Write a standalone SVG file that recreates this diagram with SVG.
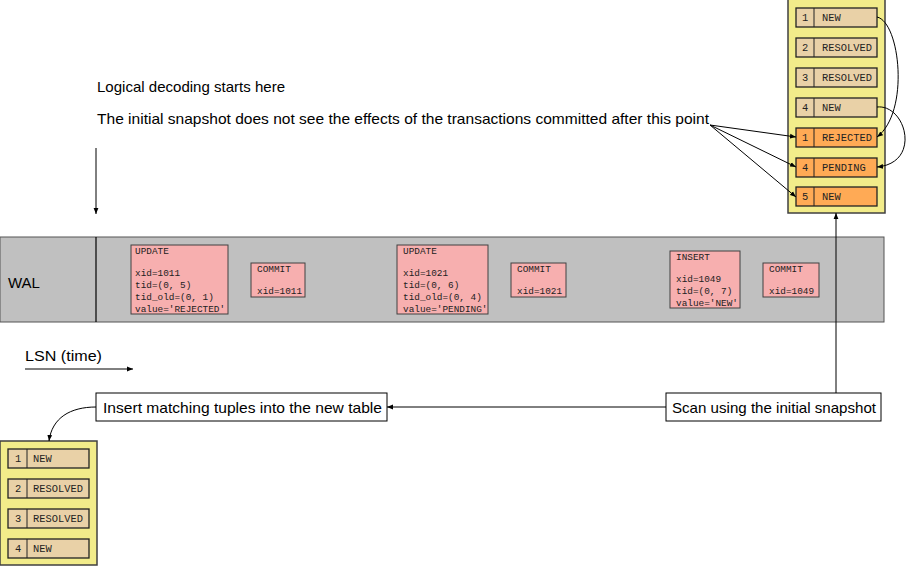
<svg xmlns="http://www.w3.org/2000/svg" width="907" height="567" viewBox="0 0 907 567">
<defs>
<marker id="ah" viewBox="0 0 10 10" refX="10" refY="5" markerWidth="6" markerHeight="6" orient="auto" markerUnits="userSpaceOnUse">
<path d="M0,1 L10,5 L0,9 z" fill="#000"/>
</marker>
</defs>
<style>
.t{font-family:"Liberation Sans","DejaVu Sans",sans-serif;font-size:15px;fill:#000}
.m{font-family:"Liberation Mono","DejaVu Sans Mono",monospace;font-size:9.4px;fill:#222}
.r{font-family:"Liberation Mono","DejaVu Sans Mono",monospace;font-size:10.4px;fill:#222}
.rec{fill:#F7AFAF;stroke:#404040;stroke-width:1}
.tbl{fill:#F2EC8A;stroke:#404040;stroke-width:1.5}
.tan{fill:#E9D1A7;stroke:#222;stroke-width:1.3}
.org{fill:#FFAA55;stroke:#222;stroke-width:1.3}
.box{fill:#fff;stroke:#000;stroke-width:1}
.c{fill:none;stroke:#000;stroke-width:1;marker-end:url(#ah)}
</style>
<rect width="907" height="567" fill="#fff"/>

<g id="wal">
<rect x="0" y="237" width="884" height="85" fill="#C0C0C0" stroke="#555" stroke-width="1"/>
<line x1="96" y1="237" x2="96" y2="322" stroke="#000" stroke-width="1.2"/>
<text class="t" x="8" y="288" font-size="17">WAL</text>
</g>

<g id="rec-update1">
<rect class="rec" x="131" y="245" width="97" height="69"/>
<text class="m" x="135" y="254">UPDATE</text>
<text class="m" x="135" y="276">xid=1011</text>
<text class="m" x="135" y="288">tid=(0, 5)</text>
<text class="m" x="135" y="300">tid_old=(0, 1)</text>
<text class="m" x="135" y="312">value='REJECTED'</text>
</g>
<g id="rec-commit1">
<rect class="rec" x="251" y="263" width="54" height="34"/>
<text class="m" x="257" y="272">COMMIT</text>
<text class="m" x="257" y="294">xid=1011</text>
</g>
<g id="rec-update2">
<rect class="rec" x="397" y="245" width="91" height="69"/>
<text class="m" x="403" y="254">UPDATE</text>
<text class="m" x="403" y="276">xid=1021</text>
<text class="m" x="403" y="288">tid=(0, 6)</text>
<text class="m" x="403" y="300">tid_old=(0, 4)</text>
<text class="m" x="403" y="312">value='PENDING'</text>
</g>
<g id="rec-commit2">
<rect class="rec" x="511" y="263" width="55" height="34"/>
<text class="m" x="517" y="272">COMMIT</text>
<text class="m" x="517" y="294">xid=1021</text>
</g>
<g id="rec-insert">
<rect class="rec" x="670" y="251" width="70" height="57"/>
<text class="m" x="676" y="260">INSERT</text>
<text class="m" x="676" y="282">xid=1049</text>
<text class="m" x="676" y="294">tid=(0, 7)</text>
<text class="m" x="676" y="306">value='NEW'</text>
</g>
<g id="rec-commit3">
<rect class="rec" x="763" y="263" width="56" height="34"/>
<text class="m" x="769" y="272">COMMIT</text>
<text class="m" x="769" y="294">xid=1049</text>
</g>

<g id="labels">
<text class="t" x="97" y="92" textLength="188" lengthAdjust="spacingAndGlyphs">Logical decoding starts here</text>
<text class="t" x="97" y="124" textLength="612" lengthAdjust="spacingAndGlyphs">The initial snapshot does not see the effects of the transactions committed after this point</text>
<text class="t" x="25" y="361" textLength="77" lengthAdjust="spacingAndGlyphs">LSN (time)</text>
</g>

<g id="new-table">
<rect class="tbl" x="788" y="-1" width="97" height="214"/>
<rect class="tan" x="796" y="8" width="81" height="19"/><line x1="814" y1="8" x2="814" y2="27" stroke="#222"/>
<text class="r" x="805" y="21" text-anchor="middle">1</text><text class="r" x="822" y="21">NEW</text>
<rect class="tan" x="796" y="38" width="81" height="19"/><line x1="814" y1="38" x2="814" y2="57" stroke="#222"/>
<text class="r" x="805" y="51" text-anchor="middle">2</text><text class="r" x="822" y="51">RESOLVED</text>
<rect class="tan" x="796" y="68" width="81" height="19"/><line x1="814" y1="68" x2="814" y2="87" stroke="#222"/>
<text class="r" x="805" y="81" text-anchor="middle">3</text><text class="r" x="822" y="81">RESOLVED</text>
<rect class="tan" x="796" y="98" width="81" height="19"/><line x1="814" y1="98" x2="814" y2="117" stroke="#222"/>
<text class="r" x="805" y="111" text-anchor="middle">4</text><text class="r" x="822" y="111">NEW</text>
<rect class="org" x="796" y="128" width="81" height="19"/><line x1="814" y1="128" x2="814" y2="147" stroke="#222"/>
<text class="r" x="805" y="141" text-anchor="middle">1</text><text class="r" x="822" y="141">REJECTED</text>
<rect class="org" x="796" y="158" width="81" height="19"/><line x1="814" y1="158" x2="814" y2="177" stroke="#222"/>
<text class="r" x="805" y="171" text-anchor="middle">4</text><text class="r" x="822" y="171">PENDING</text>
<rect class="org" x="796" y="187" width="81" height="19"/><line x1="814" y1="187" x2="814" y2="206" stroke="#222"/>
<text class="r" x="805" y="200" text-anchor="middle">5</text><text class="r" x="822" y="200">NEW</text>
</g>

<g id="copy-table">
<rect class="tbl" x="0" y="441" width="97" height="124"/>
<rect class="tan" x="8" y="449" width="81" height="19"/><line x1="27" y1="449" x2="27" y2="468" stroke="#222"/>
<text class="r" x="18" y="462" text-anchor="middle">1</text><text class="r" x="33" y="462">NEW</text>
<rect class="tan" x="8" y="479" width="81" height="19"/><line x1="27" y1="479" x2="27" y2="498" stroke="#222"/>
<text class="r" x="18" y="492" text-anchor="middle">2</text><text class="r" x="33" y="492">RESOLVED</text>
<rect class="tan" x="8" y="509" width="81" height="19"/><line x1="27" y1="509" x2="27" y2="528" stroke="#222"/>
<text class="r" x="18" y="522" text-anchor="middle">3</text><text class="r" x="33" y="522">RESOLVED</text>
<rect class="tan" x="8" y="539" width="81" height="19"/><line x1="27" y1="539" x2="27" y2="558" stroke="#222"/>
<text class="r" x="18" y="552" text-anchor="middle">4</text><text class="r" x="33" y="552">NEW</text>
</g>

<g id="insert-box">
<rect class="box" x="96" y="393" width="291" height="28"/>
<text class="t" x="103" y="413" textLength="279" lengthAdjust="spacingAndGlyphs">Insert matching tuples into the new table</text>
</g>
<g id="scan-box">
<rect class="box" x="666" y="393" width="215" height="28"/>
<text class="t" x="672" y="413" textLength="204" lengthAdjust="spacingAndGlyphs">Scan using the initial snapshot</text>
</g>

<g id="connectors">
<line class="c" x1="96" y1="148" x2="96" y2="214"/>
<line class="c" x1="25" y1="369" x2="133" y2="369"/>
<line class="c" x1="710" y1="125" x2="796" y2="137"/>
<line class="c" x1="710" y1="125" x2="796" y2="167"/>
<line class="c" x1="710" y1="125" x2="796" y2="197"/>
<path class="c" d="M877,17 C900,22 910,112 877,137"/>
<path class="c" d="M877,107 C906,104 922,163 877,167"/>
<line class="c" x1="836" y1="393" x2="836" y2="213"/>
<line class="c" x1="666" y1="407" x2="387" y2="407"/>
<path class="c" d="M96,407 C70,407 52,418 49,441"/>
</g>
</svg>
